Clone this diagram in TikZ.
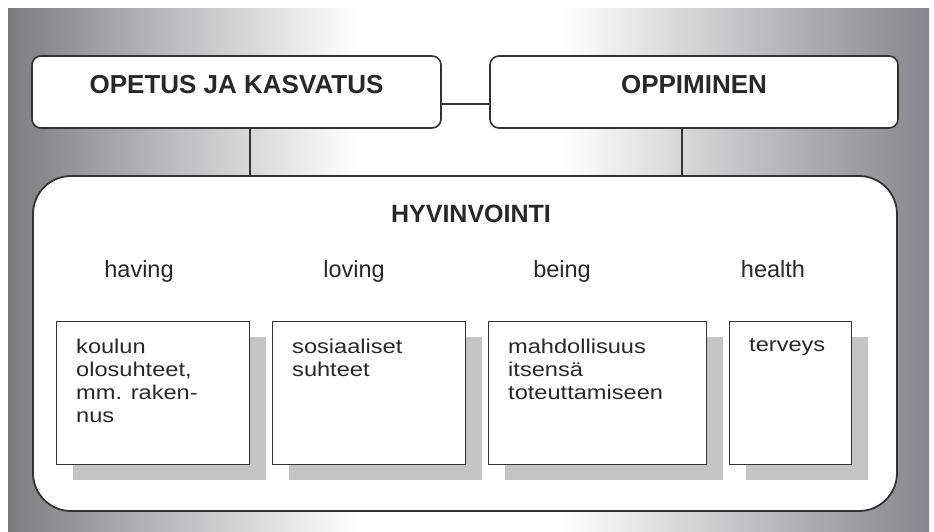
\documentclass[tikz,border=0pt]{standalone}
\usepackage{fontspec}
\setmainfont{Liberation Sans}
\newfontfamily\widesans[FakeStretch=1.18]{Liberation Sans}
\usetikzlibrary{shadows}
\definecolor{framegray}{RGB}{50,50,50}
\definecolor{textgray}{RGB}{40,40,40}
\definecolor{shadowgray}{RGB}{196,196,196}
\definecolor{edgeleft}{RGB}{124,124,126}
\definecolor{edgeright}{RGB}{134,134,140}
\definecolor{midgray}{RGB}{182,182,184}
\pgfdeclarehorizontalshading{backshade}{100bp}{color(0bp)=(edgeleft);
  color(25bp)=(edgeleft); color(33bp)=(midgray); color(44bp)=(white);
  color(55bp)=(white); color(67bp)=(midgray); color(75bp)=(edgeright);
  color(100bp)=(edgeright)}
\tikzset{
  headbox/.style={draw=framegray,line width=1.6pt,fill=white,rounded corners=9pt,
    minimum height=72pt,text depth=16pt,text=textgray,
    font=\fontsize{26}{30}\selectfont\bfseries},
  wellbox/.style={draw=framegray,line width=1.8pt,fill=white,rounded corners=38pt,
    minimum width=864pt,minimum height=335pt},
  itembox/.style={draw=framegray,line width=1.3pt,fill=white,anchor=north west,
    minimum height=143pt,
    drop shadow={shadow xshift=16pt,shadow yshift=-15pt,fill=shadowgray,opacity=1}},
  itemtext/.style={anchor=north west,inner sep=0pt,align=left,text=textgray,
    font=\widesans\fontsize{20}{23}\selectfont},
  aspect/.style={anchor=base,inner sep=0pt,text=textgray,
    font=\fontsize{23.5}{27}\selectfont},
  link/.style={draw=framegray,line width=1.3pt},
}
\begin{document}
\begin{tikzpicture}[x=1pt,y=-1pt]
\useasboundingbox (0,0) rectangle (934,531);
\shade[shading=backshade] (8,8) rectangle (929,531);
% top row
\node[headbox,minimum width=409pt] (opetus) at (236.5,92) {OPETUS JA KASVATUS};
\node[headbox,minimum width=408pt] (oppiminen) at (694,92) {OPPIMINEN};
% well-being frame
\node[wellbox] (well) at (465,343.5) {};
\node[anchor=base,inner sep=0pt,text=textgray,font=\fontsize{25}{29}\selectfont\bfseries]
  (hyv) at (471,222) {HYVINVOINTI};
\draw[link] ([yshift=-12pt]opetus.east) -- ([yshift=-12pt]oppiminen.west);
\draw[link] ([xshift=13.5pt]opetus.south) -- ([xshift=13.5pt]opetus.south |- well.north);
\draw[link] ([xshift=-12pt]oppiminen.south) -- ([xshift=-12pt]oppiminen.south |- well.north);
% four dimensions
\foreach \i/\bx/\bw/\lx/\asp/\txt in {
  1/56/193/139/having/{koulun\\olosuhteet,\\mm. raken-\\nus},
  2/272/193/354/loving/{sosiaaliset\\suhteet},
  3/488/218/562/being/{mahdollisuus\\itsensä\\toteuttamiseen},
  4/729/122/773/health/{terveys}}{
  \node[aspect] (asp\i) at (\lx,277) {\asp};
  \node[itembox,minimum width=\bw pt] (item\i) at (\bx,321) {};
  \node[itemtext] (itemtxt\i) at ([shift={(20,17.5)}]item\i.north west) {\txt};
}
\end{tikzpicture}
\end{document}
